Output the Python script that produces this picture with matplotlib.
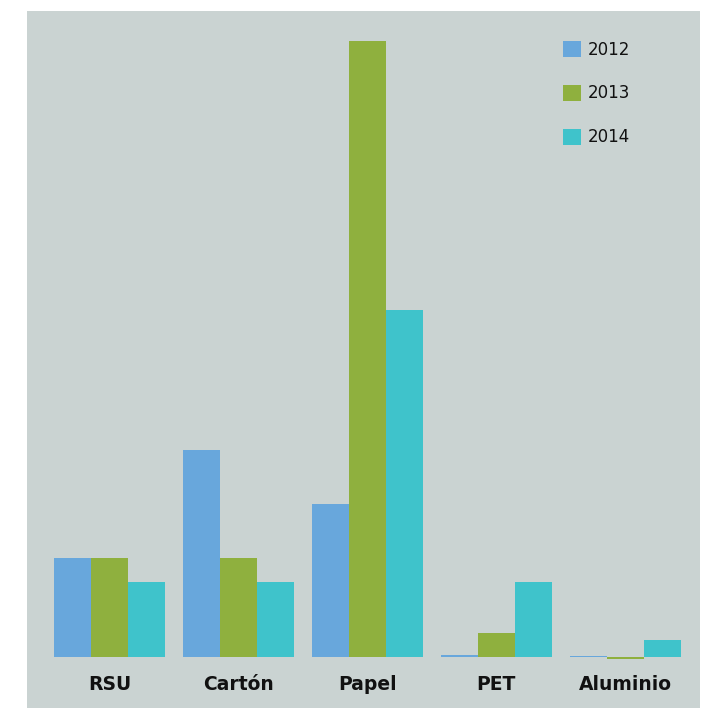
import numpy as np
import matplotlib
matplotlib.use('Agg')
from matplotlib import pyplot as plt

# datos (escala arbitraria, 1 unidad ~ 25 px)
categorias = ['RSU', 'Cartón', 'Papel', 'PET', 'Aluminio']
anios = ['2012', '2013', '2014']
v2012 = [3.96, 8.28, 6.12, 0.08, 0.04]
v2013 = [3.96, 3.96, 24.64, 0.96, -0.06]
v2014 = [3.0, 3.0, 13.88, 3.0, 0.68]
colores = ['#68a7dc', '#8fb03e', '#3fc3cb']
fondo = '#cad3d2'

fig = plt.figure(figsize=(7.18, 7.08), dpi=100)
ax = fig.add_axes([27 / 718, 0, 673 / 718, 697 / 708])
ax.set_facecolor(fondo)

x = np.arange(len(categorias))
ancho = 37 / 129
for i, (serie, c) in enumerate(zip([v2012, v2013, v2014], colores)):
    ax.bar(x + (i - 1) * ancho, serie, width=ancho, color=c, label=anios[i])

ax.set_xlim(-0.64, 4.58)
ax.set_ylim(-2.04, 25.84)

for xi, cat in zip(x, categorias):
    ax.text(xi, -1.08, cat, ha='center', va='center', fontsize=13.5,
            fontweight='bold', color='#111111')

for s in ax.spines.values():
    s.set_visible(False)
ax.set_xticks([])
ax.set_yticks([])

ax.legend(loc='upper left', bbox_to_anchor=(536 / 718, 1 - 14 / 708),
          bbox_transform=fig.transFigure, frameon=False, fontsize=12,
          handlelength=1.1, handleheight=1.1, handletextpad=0.4,
          labelspacing=1.55, borderaxespad=0, borderpad=1.6,
          labelcolor='#111111')

fig.savefig('out.png', dpi=100)
